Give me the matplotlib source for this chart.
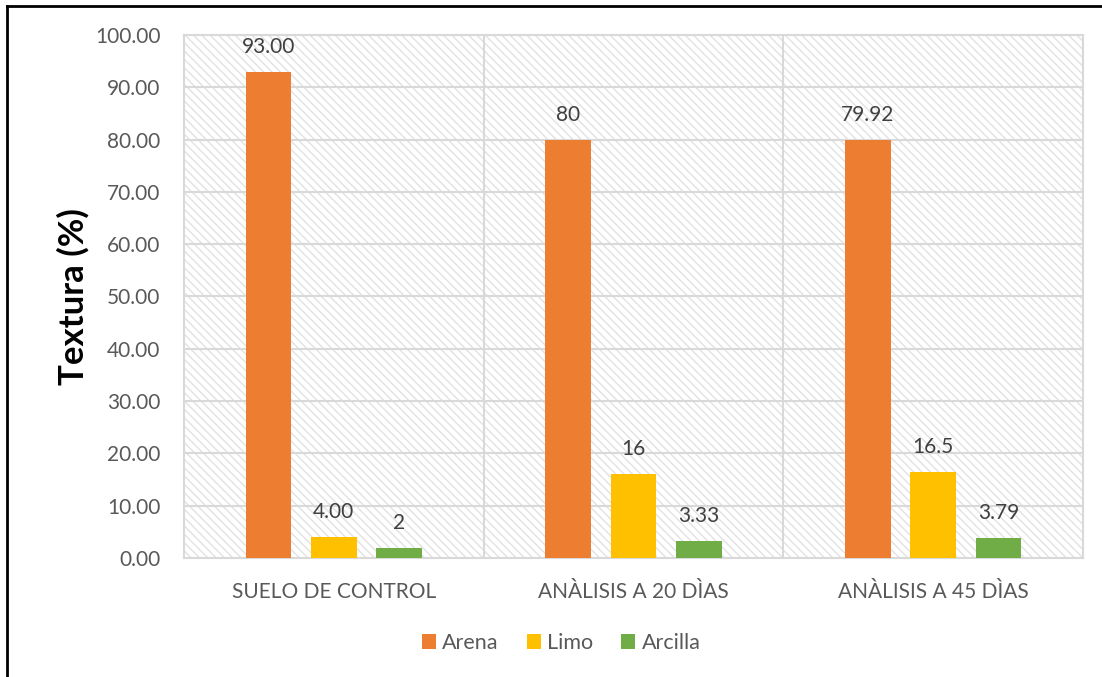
import matplotlib.pyplot as plt
import numpy as np
from matplotlib.patches import Rectangle
from matplotlib.lines import Line2D

categories = ["SUELO DE CONTROL", "ANÀLISIS A 20 DÌAS", "ANÀLISIS A 45 DÌAS"]
series_names = ["Arena", "Limo", "Arcilla"]
arena = [93.00, 80, 79.92]
limo = [4.00, 16, 16.5]
arcilla = [2, 3.33, 3.79]
arena_labels = ["93.00", "80", "79.92"]
limo_labels = ["4.00", "16", "16.5"]
arcilla_labels = ["2", "3.33", "3.79"]
colors = ["#ED7D31", "#FFC000", "#70AD47"]
y_ticks = np.arange(0, 101, 10)

plt.rcParams['font.family'] = ['Lato', 'DejaVu Sans']
plt.rcParams['hatch.linewidth'] = 1.0
text_gray = "#595959"
grid_gray = "#d9d9d9"

fig = plt.figure(figsize=(11.02, 6.77), dpi=100)
ax = fig.add_axes([0.167, 0.1758, 0.8158, 0.7725])

# hatched plot area background
ax.add_patch(Rectangle((0, 0), 1, 1, transform=ax.transAxes, facecolor="white",
                       edgecolor="#e2e2e2", hatch="\\\\\\\\", lw=0, zorder=0))

x = np.arange(len(categories))
width = 0.153
step = 0.218
all_vals = [arena, limo, arcilla]
all_labels = [arena_labels, limo_labels, arcilla_labels]
for i, (vals, labs) in enumerate(zip(all_vals, all_labels)):
    pos = x + (i - 1) * step
    ax.bar(pos, vals, width, color=colors[i], label=series_names[i], zorder=3)
    for px, v, lab in zip(pos, vals, labs):
        ax.annotate(lab, (px, v), xytext=(0, 18), textcoords="offset points",
                    ha="center", va="center", fontsize=15, color="#404040")

ax.set_xlim(-0.5, 2.5)
ax.set_ylim(0, 100)
ax.set_yticks(y_ticks)
ax.set_yticklabels([f"{t:.2f}" for t in y_ticks])
ax.set_xticks(x)
ax.set_xticklabels(categories)
ax.tick_params(axis="both", length=0, labelsize=15, labelcolor=text_gray)
ax.tick_params(axis="y", pad=17)
ax.tick_params(axis="x", pad=17)

for t in y_ticks[1:]:
    ax.axhline(t, color=grid_gray, lw=1.5, zorder=1)
for b in [0.5, 1.5]:
    ax.axvline(b, color=grid_gray, lw=1.5, zorder=1)
for s in ax.spines.values():
    s.set_color(grid_gray)
    s.set_linewidth(1.5)

ax.set_ylabel("Textura (%)", fontsize=25, fontweight="bold", color="black", labelpad=4)

ax.legend(loc="center", bbox_to_anchor=(561 / 1102, 1 - 643 / 677),
          bbox_transform=fig.transFigure, ncol=3, frameon=False, fontsize=15.5,
          labelcolor=text_gray, handlelength=0.65, handleheight=0.65,
          handletextpad=0.3, columnspacing=1.3)

# outer frame, left and top edges only
fig.add_artist(Line2D([7 / 1102, 7 / 1102], [0, 1 - 6 / 677], color="black", lw=2,
                      transform=fig.transFigure))
fig.add_artist(Line2D([7 / 1102, 1], [1 - 6 / 677, 1 - 6 / 677], color="black", lw=2,
                      transform=fig.transFigure))

fig.savefig("out.png", dpi=100)
